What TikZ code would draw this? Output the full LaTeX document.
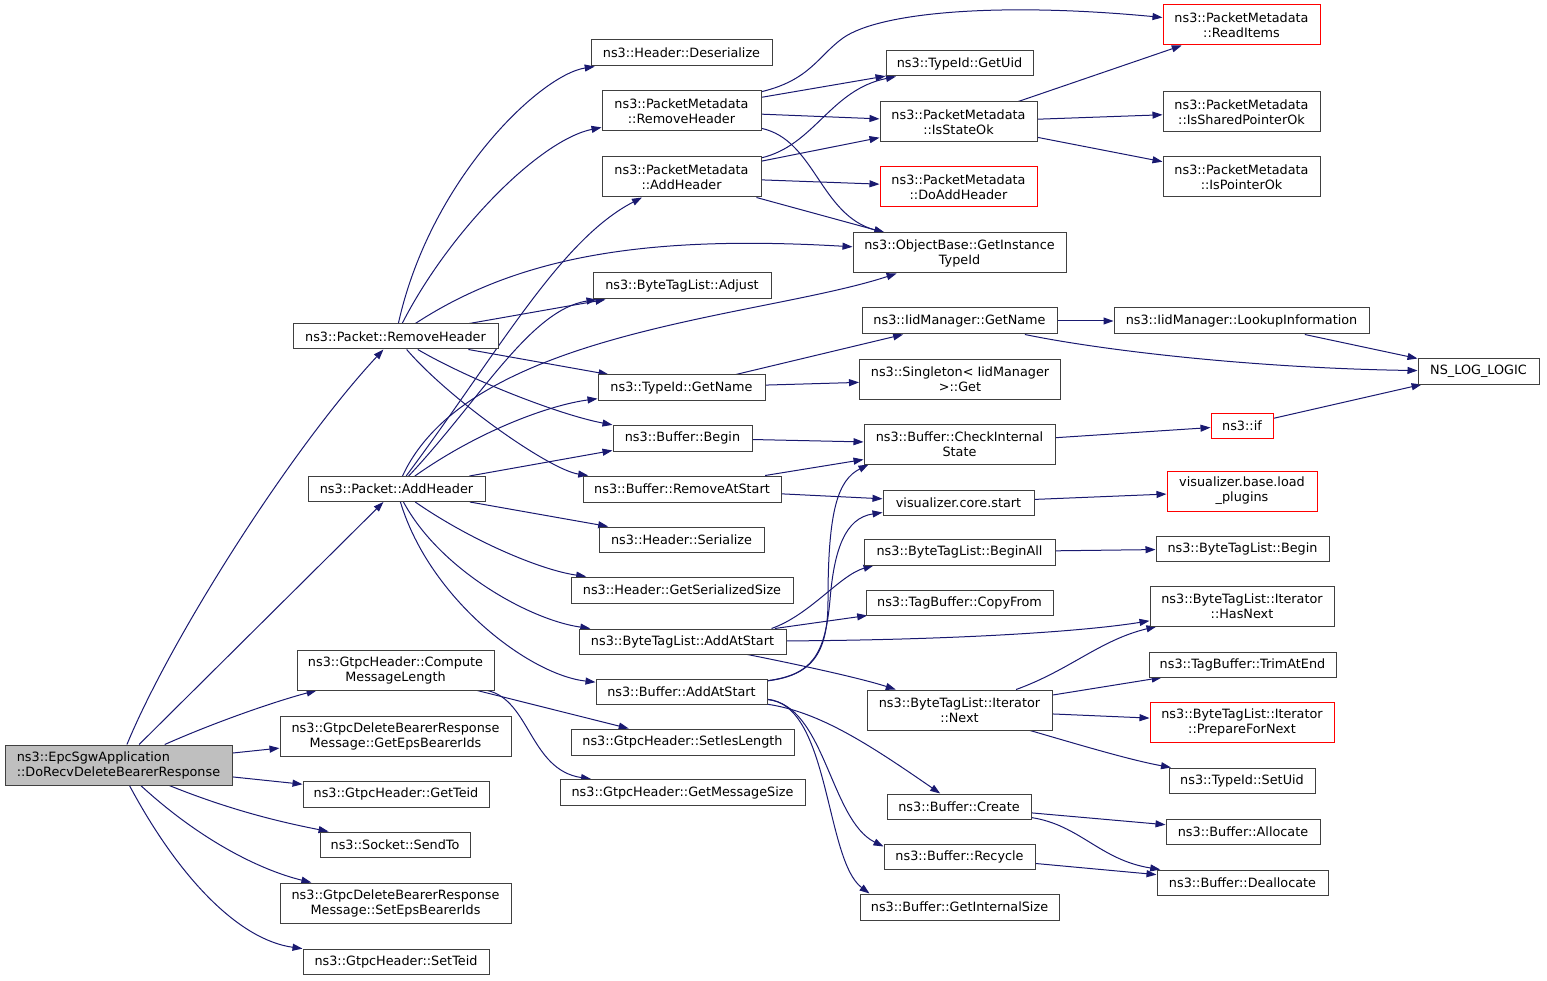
\documentclass[tikz,border=0pt]{standalone}
\usepackage{fontspec}
\newfontfamily\dejavu{DejaVu Sans}
\usetikzlibrary{arrows.meta}
\definecolor{edgeblue}{HTML}{191970}
\definecolor{nodeborder}{HTML}{404040}
\definecolor{rootfill}{HTML}{BFBFBF}
\pgfdeclarelayer{bg}
\pgfsetlayers{bg,main}
\tikzset{
  box/.style={draw=nodeborder, line width=1pt, fill=white, inner sep=0pt, align=center, text=black, font=\dejavu\fontsize{12.8}{15}\selectfont},
  redbox/.style={box, draw=red},
  rootbox/.style={box, fill=rootfill, align=left},
  wh/.style 2 args={minimum width=#1pt, minimum height=#2pt},
  e/.style={draw=edgeblue, line width=1pt, -{Triangle[length=10pt,width=7pt]}},
}
\begin{document}
\begin{tikzpicture}[x=1pt,y=-1pt]
\useasboundingbox (0,0) rectangle (1547,981);
% column 0
\node[rootbox, wh={227}{40}] (root) at (118.5,765) {ns3::EpcSgwApplication\\::DoRecvDeleteBearerResponse};
% column 1
\node[box, wh={205}{25}] (prh) at (395.5,336.5) {ns3::Packet::RemoveHeader};
\node[box, wh={177}{25}] (pah) at (396.5,489) {ns3::Packet::AddHeader};
\node[box, wh={197}{40}] (gcml) at (395.5,670) {ns3::GtpcHeader::Compute\\MessageLength};
\node[box, wh={231}{40}] (gget) at (395.5,736) {ns3::GtpcDeleteBearerResponse\\Message::GetEpsBearerIds};
\node[box, wh={186}{26}] (getteid) at (396,794) {ns3::GtpcHeader::GetTeid};
\node[box, wh={150}{25}] (sendto) at (395,844.5) {ns3::Socket::SendTo};
\node[box, wh={231}{40}] (gset) at (395.5,903) {ns3::GtpcDeleteBearerResponse\\Message::SetEpsBearerIds};
\node[box, wh={186}{25}] (setteid) at (396,961.5) {ns3::GtpcHeader::SetTeid};
% column 2
\node[box, wh={181}{26}] (hdes) at (681.5,53) {ns3::Header::Deserialize};
\node[box, wh={159}{40}] (pmrh) at (681.5,111) {ns3::PacketMetadata\\::RemoveHeader};
\node[box, wh={159}{40}] (pmah) at (681.5,177) {ns3::PacketMetadata\\::AddHeader};
\node[box, wh={178}{26}] (btladj) at (682,286) {ns3::ByteTagList::Adjust};
\node[box, wh={167}{25}] (tgetname) at (681.5,387.5) {ns3::TypeId::GetName};
\node[box, wh={139}{26}] (bbegin) at (682.5,438) {ns3::Buffer::Begin};
\node[box, wh={198}{26}] (brem) at (682,489) {ns3::Buffer::RemoveAtStart};
\node[box, wh={165}{25}] (hser) at (681.5,539.5) {ns3::Header::Serialize};
\node[box, wh={222}{26}] (hgss) at (682,590) {ns3::Header::GetSerializedSize};
\node[box, wh={207}{25}] (btlaas) at (682.5,641.5) {ns3::ByteTagList::AddAtStart};
\node[box, wh={171}{25}] (baas) at (681.5,691.5) {ns3::Buffer::AddAtStart};
\node[box, wh={223}{26}] (gsetl) at (682.5,742) {ns3::GtpcHeader::SetIesLength};
\node[box, wh={245}{26}] (ggetms) at (682.5,792.5) {ns3::GtpcHeader::GetMessageSize};
% column 3
\node[box, wh={147}{25}] (tgetuid) at (959.5,63.5) {ns3::TypeId::GetUid};
\node[box, wh={157}{40}] (pmstate) at (958.5,122) {ns3::PacketMetadata\\::IsStateOk};
\node[redbox, wh={157}{40}] (pmdoadd) at (958.5,187) {ns3::PacketMetadata\\::DoAddHeader};
\node[box, wh={213}{40}] (obgit) at (959.5,253) {ns3::ObjectBase::GetInstance\\TypeId};
\node[box, wh={195}{26}] (iidgn) at (959.5,321) {ns3::IidManager::GetName};
\node[box, wh={201}{40}] (singget) at (960,379.5) {ns3::Singleton< IidManager\\>::Get};
\node[box, wh={191}{40}] (bcis) at (959.5,444) {ns3::Buffer::CheckInternal\\State};
\node[box, wh={151}{25}] (vcs) at (958.5,502.5) {visualizer.core.start};
\node[box, wh={191}{26}] (btlba) at (959.5,552) {ns3::ByteTagList::BeginAll};
\node[box, wh={187}{25}] (tbcf) at (959.5,602.5) {ns3::TagBuffer::CopyFrom};
\node[box, wh={185}{40}] (btlnext) at (959.5,710) {ns3::ByteTagList::Iterator\\::Next};
\node[box, wh={144}{25}] (bcreate) at (959,806.5) {ns3::Buffer::Create};
\node[box, wh={151}{25}] (brecycle) at (959.5,856.5) {ns3::Buffer::Recycle};
\node[box, wh={199}{26}] (bgis) at (959.5,907) {ns3::Buffer::GetInternalSize};
% column 4
\node[redbox, wh={157}{40}] (pmread) at (1241.5,25) {ns3::PacketMetadata\\::ReadItems};
\node[box, wh={157}{40}] (pmsp) at (1241.5,112) {ns3::PacketMetadata\\::IsSharedPointerOk};
\node[box, wh={157}{40}] (pmptr) at (1241.5,177) {ns3::PacketMetadata\\::IsPointerOk};
\node[box, wh={255}{26}] (iidli) at (1241.5,321) {ns3::IidManager::LookupInformation};
\node[redbox, wh={62}{25}] (nsif) at (1242,425.5) {ns3::if};
\node[redbox, wh={150}{40}] (vbl) at (1242,491) {visualizer.base.load\\\_plugins};
\node[box, wh={173}{25}] (btlbegin) at (1242.5,548.5) {ns3::ByteTagList::Begin};
\node[box, wh={184}{40}] (btlhn) at (1242,606) {ns3::ByteTagList::Iterator\\::HasNext};
\node[box, wh={187}{25}] (tbtrim) at (1242.5,664.5) {ns3::TagBuffer::TrimAtEnd};
\node[redbox, wh={184}{40}] (btlpfn) at (1242,722) {ns3::ByteTagList::Iterator\\::PrepareForNext};
\node[box, wh={146}{25}] (tsetuid) at (1242,780.5) {ns3::TypeId::SetUid};
\node[box, wh={154}{25}] (balloc) at (1243,831.5) {ns3::Buffer::Allocate};
\node[box, wh={171}{25}] (bdealloc) at (1242.5,882.5) {ns3::Buffer::Deallocate};
% column 5
\node[box, wh={121}{25}] (nslog) at (1478.5,371.5) {NS\_LOG\_LOGIC};

\begin{pgfonlayer}{bg}
\draw[e] (root) .. controls (170,640) and (290,450) .. (prh);
\draw[e] (root) -- (pah);
\draw[e] (root) .. controls (220,720) and (280,700) .. (gcml);
\draw[e] (root) -- (gget);
\draw[e] (root) -- (getteid);
\draw[e] (root) .. controls (230,810) and (280,822) .. (sendto);
\draw[e] (root) .. controls (200,840) and (260,870) .. (gset);
\draw[e] (root) .. controls (180,880) and (240,940) .. (setteid);

\draw[e] (prh) .. controls (430,180) and (540,75) .. (hdes);
\draw[e] (prh) .. controls (450,230) and (540,140) .. (pmrh);
\draw[e] (prh) .. controls (520,255) and (650,235) .. (obgit);
\draw[e] (prh) -- (btladj);
\draw[e] (prh) -- (tgetname);
\draw[e] (prh) .. controls (470,380) and (560,415) .. (bbegin);
\draw[e] (prh) .. controls (450,400) and (550,470) .. (brem);

\draw[e] (pah) .. controls (500,350) and (560,240) .. (pmah);
\draw[e] (pah) .. controls (480,400) and (530,310) .. (btladj);
\draw[e] (pah) .. controls (470,330) and (760,318) .. (obgit);
\draw[e] (pah) .. controls (480,430) and (550,405) .. (tgetname);
\draw[e] (pah) -- (bbegin);
\draw[e] (pah) -- (hser);
\draw[e] (pah) .. controls (470,540) and (540,570) .. (hgss);
\draw[e] (pah) .. controls (440,570) and (530,620) .. (btlaas);
\draw[e] (pah) .. controls (430,600) and (530,675) .. (baas);

\draw[e] (gcml) -- (gsetl);
\draw[e] (gcml) .. controls (530,700) and (530,770) .. (ggetms);

\draw[e] (pmrh) .. controls (810,80) and (818,56) .. (843,38) .. controls (880,12) and (1000,2) .. (pmread);
\draw[e] (pmrh) -- (tgetuid);
\draw[e] (pmrh) -- (pmstate);
\draw[e] (pmrh) .. controls (815,140) and (820,215) .. (obgit);
\draw[e] (pmah) .. controls (815,145) and (830,90) .. (tgetuid);
\draw[e] (pmah) -- (pmstate);
\draw[e] (pmah) -- (pmdoadd);
\draw[e] (pmah) -- (obgit);

\draw[e] (pmstate) -- (pmread);
\draw[e] (pmstate) -- (pmsp);
\draw[e] (pmstate) -- (pmptr);

\draw[e] (tgetname) -- (iidgn);
\draw[e] (tgetname) -- (singget);
\draw[e] (iidgn) -- (iidli);
\draw[e] (iidgn) .. controls (1100,350) and (1250,368) .. (nslog);
\draw[e] (iidli) -- (nslog);
\draw[e] (nsif) -- (nslog);

\draw[e] (bbegin) -- (bcis);
\draw[e] (brem) -- (bcis);
\draw[e] (brem) -- (vcs);
\draw[e] (bcis) -- (nsif);
\draw[e] (vcs) -- (vbl);
\draw[e] (baas) .. controls (815,675) and (828,650) .. (828,600) .. controls (828,510) and (838,480) .. ([xshift=5pt]bcis.south west);
\draw[e] (baas) .. controls (812,675) and (825,655) .. (830,600) .. controls (834,550) and (845,518) .. ([yshift=3pt]vcs.south west);

\draw[e] ([xshift=-15pt]btlaas.north east) .. controls (810,615) and (840,575) .. ([xshift=10pt]btlba.south west);
\draw[e] (btlaas) -- (tbcf);
\draw[e] (btlaas) .. controls (950,640) and (1080,632) .. (btlhn);
\draw[e] (btlaas) .. controls (800,665) and (860,678) .. (btlnext);
\draw[e] (btlba) -- (btlbegin);
\draw[e] (btlnext) .. controls (1070,670) and (1100,640) .. (btlhn);
\draw[e] (btlnext) -- (tbtrim);
\draw[e] (btlnext) -- (btlpfn);
\draw[e] (btlnext) .. controls (1080,745) and (1130,760) .. (tsetuid);

\draw[e] (baas) .. controls (820,712) and (870,745) .. (bcreate);
\draw[e] (baas) .. controls (825,705) and (830,820) .. ([yshift=-3pt]brecycle.north west);
\draw[e] (baas) .. controls (830,705) and (825,860) .. ([xshift=10pt]bgis.north west);
\draw[e] (bcreate) -- (balloc);
\draw[e] (bcreate) .. controls (1080,825) and (1100,860) .. (bdealloc);
\draw[e] (brecycle) -- (bdealloc);
\end{pgfonlayer}
\end{tikzpicture}
\end{document}
